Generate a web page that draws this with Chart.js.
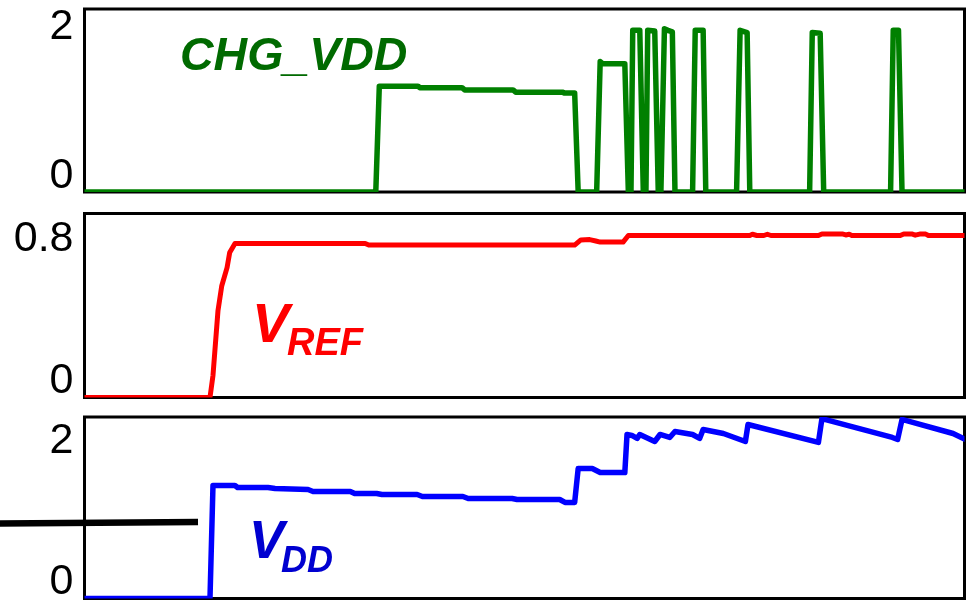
<!DOCTYPE html>
<html><head><meta charset="utf-8">
<script src="https://cdn.jsdelivr.net/npm/chart.js@4.4.0/dist/chart.umd.min.js"></script>
<style>
html,body{margin:0;padding:0;background:#fff;}
#wrap{position:relative;width:966px;height:602px;overflow:hidden;background:#fff;}
canvas{position:absolute;left:0;top:0;}
.lbl{position:absolute;font-family:"Liberation Sans",Arial,sans-serif;font-weight:bold;font-style:italic;line-height:1;white-space:nowrap;}
</style></head><body>
<div id="wrap">
<canvas id="c1" width="966" height="602" style="width:966px;height:602px"></canvas>
<canvas id="c2" width="966" height="602" style="width:966px;height:602px"></canvas>
<canvas id="c3" width="966" height="602" style="width:966px;height:602px"></canvas>
<div class="lbl" style="left:180px;top:31px;font-size:46.5px;color:#006a00">CHG_VDD</div>
<div class="lbl" style="left:252px;top:295px;font-size:56px;color:#ff0000">V</div>
<div class="lbl" style="left:287px;top:323px;font-size:38px;color:#ff0000">REF</div>
<div class="lbl" style="left:249px;top:513px;font-size:53px;color:#0000d0">V</div>
<div class="lbl" style="left:281px;top:542px;font-size:36px;color:#0000d0">DD</div>
</div>
<script>
// ---- data (time in arbitrary units 0..100, values in volts) ----
const chgTime = [0, 33.1, 33.5, 37.9, 38.1, 42.9, 43.2, 48.7, 49.0, 54.3, 54.5, 55.7, 56.1, 58.2, 58.6, 58.9, 61.4, 61.8, 62.1, 62.3, 63.1, 63.5, 63.8, 64.0, 64.8, 65.2, 65.5, 65.9, 66.3, 66.8, 67.1, 69.1, 69.4, 70.3, 70.6, 74.1, 74.5, 75.3, 75.6, 82.4, 82.7, 83.6, 84.0, 91.6, 91.9, 92.5, 92.9, 100];
const chgVolts = [0, 0, 1.42, 1.42, 1.40, 1.40, 1.37, 1.37, 1.34, 1.34, 1.33, 1.33, 0, 0, 1.75, 1.72, 1.72, 0, 0, 2.17, 2.17, 0, 0, 2.17, 2.16, 0, 0, 2.19, 2.17, 2.15, 0, 0, 2.17, 2.17, 0, 0, 2.17, 2.14, 0, 0, 2.14, 2.13, 0, 0, 2.17, 2.17, 0, 0];

const vrefTime = [0, 14.26, 14.6, 15.17, 15.6, 16.2, 16.5, 17.1, 31.9, 32.3, 55.7, 56.4, 57.4, 58.1, 58.6, 61.2, 61.8, 75.6, 75.9, 76.4, 77.2, 77.6, 78.0, 83.4, 83.8, 86.1, 86.5, 86.9, 87.2, 92.7, 93.1, 94.0, 94.4, 94.9, 95.6, 95.9, 100];
const vrefVolts = [0, 0, 0.124, 0.49, 0.63, 0.732, 0.817, 0.868, 0.868, 0.859, 0.859, 0.888, 0.89, 0.882, 0.876, 0.876, 0.913, 0.913, 0.92, 0.913, 0.913, 0.92, 0.913, 0.913, 0.922, 0.922, 0.916, 0.92, 0.913, 0.913, 0.922, 0.922, 0.915, 0.921, 0.921, 0.913, 0.913];

const vddTime = [0, 14.26, 14.6, 17.1, 17.4, 20.85, 21.65, 25.4, 25.97, 30.2, 30.7, 33.2, 33.8, 37.8, 38.4, 43.0, 43.6, 48.6, 49.15, 54.0, 54.6, 55.7, 56.1, 57.7, 58.6, 61.4, 61.65, 62.2, 62.8, 63.1, 64.8, 65.4, 66.5, 67.1, 69.1, 69.9, 70.3, 72.6, 75.1, 75.4, 83.4, 83.8, 91.8, 92.4, 92.9, 98.7, 100];
const vddVolts = [0, 0, 1.603, 1.603, 1.574, 1.574, 1.56, 1.546, 1.518, 1.518, 1.489, 1.489, 1.475, 1.475, 1.447, 1.447, 1.418, 1.418, 1.404, 1.404, 1.362, 1.362, 1.844, 1.844, 1.787, 1.787, 2.326, 2.312, 2.27, 2.326, 2.227, 2.326, 2.284, 2.369, 2.326, 2.27, 2.397, 2.34, 2.227, 2.468, 2.213, 2.55, 2.284, 2.255, 2.539, 2.34, 2.26];

const refLineTime = [-9.6, 12.9];
const refLineVolts = [1.064, 1.085];

const chgTicks = [0, 2];
const chgTickLabels = ['0', '2'];
const vrefTicks = [0, 0.8];
const vrefTickLabels = ['0', '0.8'];
const vddTicks = [0, 2];
const vddTickLabels = ['0', '2'];

// ---- helpers ----
const pts = (t, v) => t.map((x, i) => ({x: x, y: v[i]}));

const framePlugin = {
  id: 'frame',
  beforeDatasetsDraw(chart) {
    const {ctx, chartArea: a} = chart;
    ctx.save();
    ctx.strokeStyle = '#000';
    ctx.lineWidth = 3;
    ctx.strokeRect(a.left, a.top, a.right - a.left, a.bottom - a.top);
    ctx.restore();
  }
};

function lineDs(data, color, width, extra) {
  return Object.assign({
    data: data, borderColor: color, borderWidth: width, pointRadius: 0,
    tension: 0, borderJoinStyle: 'round', borderCapStyle: 'round', fill: false
  }, extra || {});
}

function makePanel(id, datasets, yMax, tickVals, tickLabels, padTop, padBottom) {
  return new Chart(document.getElementById(id), {
    type: 'line',
    data: {datasets: datasets},
    options: {
      responsive: false, animation: false, events: [],
      layout: {padding: {top: padTop, bottom: padBottom, left: 0, right: 1.5}},
      plugins: {legend: {display: false}, tooltip: {enabled: false}},
      scales: {
        x: {type: 'linear', min: 0, max: 100, display: false},
        y: {
          type: 'linear', min: 0, max: yMax,
          grid: {display: false, drawTicks: false},
          border: {display: false},
          afterBuildTicks: s => { s.ticks = tickVals.map(v => ({value: v})); },
          afterFit: s => { s.width = 84.5; s.paddingTop = 0; s.paddingBottom = 0; },
          ticks: {
            font: {family: '"Liberation Sans", Arial, sans-serif', size: 43},
            color: '#000', padding: 11, labelOffset: -16,
            callback: (v, i) => tickLabels[i]
          }
        }
      }
    },
    plugins: [framePlugin]
  });
}

makePanel('c1', [lineDs(pts(chgTime, chgVolts), '#008000', 5.5)], 2.456, chgTicks, chgTickLabels, 9, 410);
makePanel('c2', [lineDs(pts(vrefTime, vrefVolts), '#ff0000', 5)], 1.037, vrefTicks, vrefTickLabels, 213.5, 204.5);
makePanel('c3', [
  lineDs(pts(vddTime, vddVolts), '#0000ff', 5.5),
  lineDs(pts(refLineTime, refLineVolts), '#000000', 6.5, {clip: false, borderCapStyle: 'butt'})
], 2.574, vddTicks, vddTickLabels, 417, 3.5);
</script>
</body></html>
